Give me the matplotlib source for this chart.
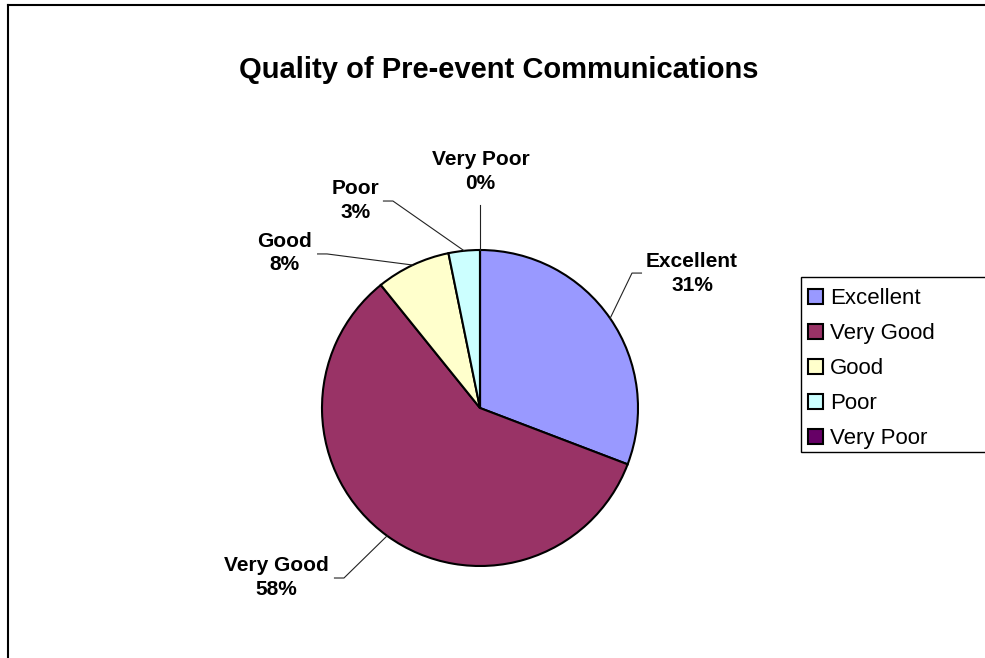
import matplotlib.pyplot as plt
from matplotlib.patches import Patch, Rectangle
from matplotlib.lines import Line2D
import numpy as np

# datos
categorias = ['Excellent', 'Very Good', 'Good', 'Poor', 'Very Poor']
valores = [30.8, 58.4, 7.6, 3.2, 0.0]
colores = ['#9999FF', '#993366', '#FFFFCC', '#CCFFFF', '#660066']

# posiciones de las etiquetas (en radios del pastel) y codo de la linea guia
pos_texto = [(1.342, 0.854), (-1.291, -1.070), (-1.237, 0.981), (-0.785, 1.316), (0.003, 1.494)]
pos_codo = [(0.962, 0.854), (-0.861, -1.076), (-0.968, 0.975), (-0.551, 1.310), (0.0, 1.285)]

plt.rcParams['font.family'] = ['Liberation Sans', 'DejaVu Sans']

fig = plt.figure(figsize=(9.85, 6.58), dpi=100)

# marco de la figura (solo izquierda y arriba son visibles)
fig.add_artist(Line2D([8 / 985, 8 / 985], [0, 1 - 5 / 658], transform=fig.transFigure, color='black', lw=1.5))
fig.add_artist(Line2D([8 / 985, 1], [1 - 5 / 658, 1 - 5 / 658], transform=fig.transFigure, color='black', lw=1.5))

# ejes del pastel: radio 158 px, centro en (480, 408)
r_px = 158
a = 1.6
w_px = 2 * a * r_px
ax = fig.add_axes([(480 - w_px / 2) / 985, (658 - 408 - w_px / 2) / 658, w_px / 985, w_px / 658])

wedges, _ = ax.pie(valores, colors=colores, startangle=90, counterclock=False, radius=1,
                   wedgeprops=dict(edgecolor='black', linewidth=1.5))
ax.set_xlim(-a, a)
ax.set_ylim(-a, a)
ax.axis('off')

total = sum(valores)
for i, w in enumerate(wedges):
    ang = np.deg2rad((w.theta1 + w.theta2) / 2)
    x0, y0 = np.cos(ang), np.sin(ang)
    tx, ty = pos_texto[i]
    cx, cy = pos_codo[i]
    if categorias[i] == 'Very Poor':
        xs, ys = [x0, cx], [y0, cy]
    else:
        paso = 0.06 if tx > cx else -0.06
        xs, ys = [x0, cx, cx + paso], [y0, cy, cy]
    ax.plot(xs, ys, color='#222222', lw=0.8, clip_on=False)
    pct = valores[i] / total * 100
    ax.text(tx, ty, f"{categorias[i]}\n{pct:.0f}%", ha='center', va='center',
            fontsize=15, fontweight='bold', linespacing=1.33)

fig.text(499 / 985, 1 - 78 / 658, 'Quality of Pre-event Communications', ha='center', va='baseline',
         fontsize=21, fontweight='bold')

# marco de la leyenda: se sale por la derecha de la imagen
fig.add_artist(Rectangle((801 / 985, 1 - 452 / 658), 200 / 985, 175 / 658, transform=fig.transFigure,
                         facecolor='white', edgecolor='black', linewidth=1.0, zorder=1))

handles = [Patch(facecolor=c, edgecolor='black', linewidth=1.5) for c in colores]
leg = fig.legend(handles, categorias, loc='upper left', bbox_to_anchor=(797 / 985, 1 - 277 / 658),
                 fontsize=16, frameon=False,
                 handlelength=0.68, handleheight=0.68, handletextpad=0.32, labelspacing=0.63,
                 borderpad=0.5, borderaxespad=0)
leg.set_zorder(2)

plt.savefig('out.png', dpi=100)
plt.close(fig)
